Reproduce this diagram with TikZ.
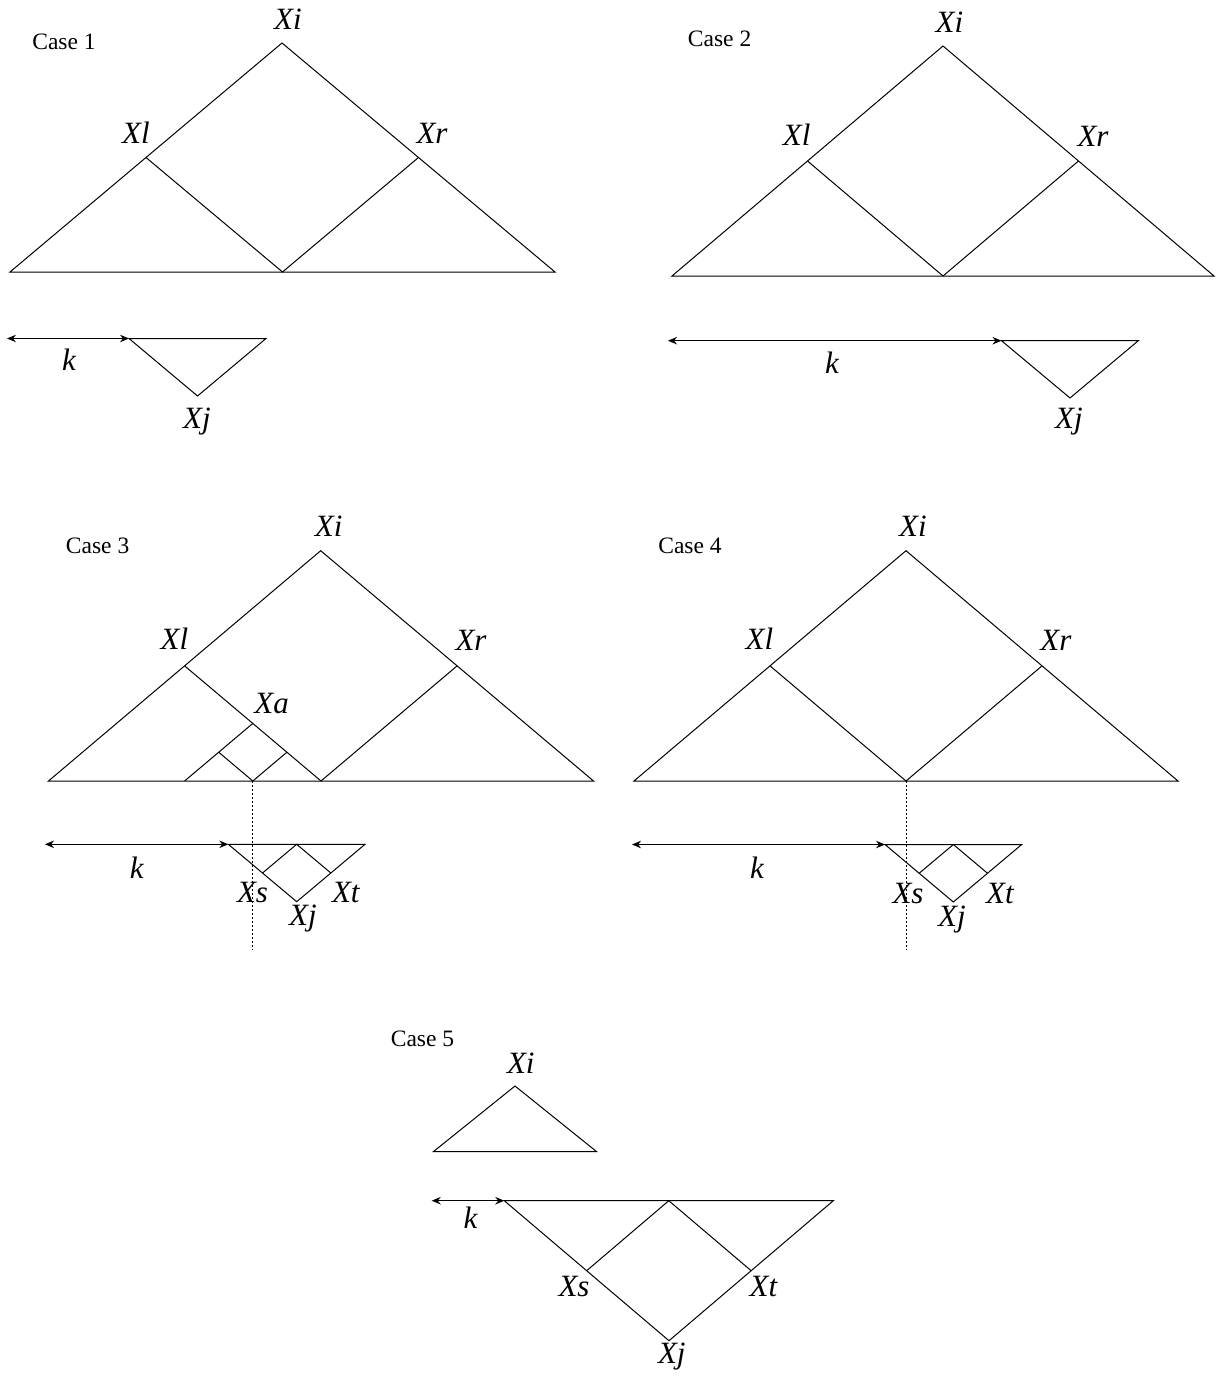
\documentclass[tikz,border=0pt]{standalone}
\usepackage{fontspec}
\setmainfont{Liberation Serif}
\usetikzlibrary{arrows.meta, positioning, calc}
\tikzset{
	tri/.style={line width=1pt},
	span/.style={{Stealth[length=9pt, width=7.5pt]}-{Stealth[length=9pt, width=7.5pt]}, line width=1pt},
	cut/.style={line width=0.9pt, dash pattern=on 2pt off 2pt},
	% text styles
	casetitle/.style={anchor=base, inner sep=0pt, font=\fontsize{23.5}{28}\selectfont},
	var/.style={anchor=base, inner sep=0pt, font=\fontsize{31}{36}\selectfont\itshape},
}
\begin{document}
\begin{tikzpicture}[x=1pt, y=-1pt]
\useasboundingbox (0,0) rectangle (1215,1380);
% Case 1
\coordinate (i1) at (282,43);
\coordinate (a1) at (10,272);
\coordinate (b1) at (555,272);
\coordinate (m1) at ($(a1)!.5!(b1)$);
\coordinate (l1) at ($(i1)!.5!(a1)$);
\coordinate (r1) at ($(i1)!.5!(b1)$);
\draw[tri] (a1) -- (i1) -- (b1) -- cycle;
\draw[tri] (l1) -- (m1) -- (r1);
\coordinate (k1) at (7,338.5);
\coordinate (p1) at (129,338.5);
\coordinate (q1) at (266,338.5);
\coordinate (j1) at (197.5,396);
\draw[span] (k1) -- (p1);
\draw[tri] (p1) -- (q1) -- (j1) -- cycle;
\node[casetitle] (c1) at (64,50) {Case 1};
\node[var] (xi1) at (288,30) {Xi};
\node[var] (xl1) at (136,143.3) {Xl};
\node[var] (xr1) at (432,144) {Xr};
\node[var] (kk1) at (69,370.7) {k};
\node[var] (xj1) at (197,428.3) {Xj};
% Case 2
\coordinate (i2) at (943,46);
\coordinate (a2) at (672,276);
\coordinate (b2) at (1214,276);
\coordinate (m2) at ($(a2)!.5!(b2)$);
\coordinate (l2) at ($(i2)!.5!(a2)$);
\coordinate (r2) at ($(i2)!.5!(b2)$);
\draw[tri] (a2) -- (i2) -- (b2) -- cycle;
\draw[tri] (l2) -- (m2) -- (r2);
\coordinate (k2) at (668,340.7);
\coordinate (p2) at (1001.5,340.7);
\coordinate (q2) at (1138.3,340.7);
\coordinate (j2) at (1070,398);
\draw[span] (k2) -- (p2);
\draw[tri] (p2) -- (q2) -- (j2) -- cycle;
\node[casetitle] (c2) at (719.6,46.7) {Case 2};
\node[var] (xi2) at (949.5,32.3) {Xi};
\node[var] (xl2) at (796.7,145.7) {Xl};
\node[var] (xr2) at (1093,146.7) {Xr};
\node[var] (kk2) at (832,373.3) {k};
\node[var] (xj2) at (1069,428.5) {Xj};
% Case 3
\coordinate (i3) at (320.7,550.7);
\coordinate (a3) at (48.5,781);
\coordinate (b3) at (593.5,781);
\coordinate (m3) at ($(a3)!.5!(b3)$);
\coordinate (l3) at ($(i3)!.5!(a3)$);
\coordinate (r3) at ($(i3)!.5!(b3)$);
\coordinate (g3) at (l3 |- a3);
\coordinate (xa3) at ($(l3)!.5!(m3)$);
\coordinate (u3) at ($(g3)!.5!(xa3)$);
\coordinate (v3) at ($(xa3)!.5!(m3)$);
\coordinate (w3) at ($(g3)!.5!(m3)$);
\draw[tri] (a3) -- (i3) -- (b3) -- cycle;
\draw[tri] (l3) -- (m3) -- (r3);
\draw[tri] (g3) -- (xa3);
\draw[tri] (u3) -- (w3) -- (v3);
\coordinate (k3) at (45,844.3);
\coordinate (p3) at (228.3,844.3);
\coordinate (q3) at (365,844.3);
\coordinate (j3) at (296.7,901.7);
\coordinate (t3) at ($(p3)!.5!(q3)$);
\coordinate (s3) at ($(p3)!.5!(j3)$);
\coordinate (e3) at ($(q3)!.5!(j3)$);
\coordinate (d3) at (252.6,950);
\draw[span] (k3) -- (p3);
\draw[tri] (p3) -- (q3) -- (j3) -- cycle;
\draw[tri] (s3) -- (t3) -- (e3);
\draw[cut] (w3) -- (w3 |- d3);
\node[casetitle] (c3) at (97.6,553.3) {Case 3};
\node[var] (xi3) at (328.7,536) {Xi};
\node[var] (xl3) at (174.4,649.3) {Xl};
\node[var] (xr3) at (471,650.7) {Xr};
\node[var] (xaa3) at (271.6,713.3) {Xa};
\node[var] (kk3) at (136.7,878.3) {k};
\node[var] (xs3) at (252.5,902.7) {Xs};
\node[var] (xt3) at (345.8,902.7) {Xt};
\node[var] (xj3) at (303,925) {Xj};
% Case 4
\coordinate (i4) at (906,550.7);
\coordinate (a4) at (634,781);
\coordinate (b4) at (1178,781);
\coordinate (m4) at ($(a4)!.5!(b4)$);
\coordinate (l4) at ($(i4)!.5!(a4)$);
\coordinate (r4) at ($(i4)!.5!(b4)$);
\draw[tri] (a4) -- (i4) -- (b4) -- cycle;
\draw[tri] (l4) -- (m4) -- (r4);
\coordinate (k4) at (632,844.5);
\coordinate (p4) at (885,844.5);
\coordinate (q4) at (1021.7,844.5);
\coordinate (j4) at (953.3,902);
\coordinate (t4) at ($(p4)!.5!(q4)$);
\coordinate (s4) at ($(p4)!.5!(j4)$);
\coordinate (e4) at ($(q4)!.5!(j4)$);
\coordinate (d4) at (906,950);
\draw[span] (k4) -- (p4);
\draw[tri] (p4) -- (q4) -- (j4) -- cycle;
\draw[tri] (s4) -- (t4) -- (e4);
\draw[cut] (m4) -- (m4 |- d4);
\node[casetitle] (c4) at (690,553.3) {Case 4};
\node[var] (xi4) at (913,536) {Xi};
\node[var] (xl4) at (759.5,649.3) {Xl};
\node[var] (xr4) at (1055.8,650.7) {Xr};
\node[var] (kk4) at (757,878.3) {k};
\node[var] (xs4) at (908,903) {Xs};
\node[var] (xt4) at (1000,903) {Xt};
\node[var] (xj4) at (952,926.5) {Xj};
% Case 5
\coordinate (i5) at (515,1086);
\coordinate (a5) at (433.3,1151.7);
\coordinate (b5) at (596.7,1151.7);
\draw[tri] (a5) -- (i5) -- (b5) -- cycle;
\coordinate (k5) at (431.7,1200.7);
\coordinate (p5) at (504.3,1200.7);
\coordinate (q5) at (833.3,1200.7);
\coordinate (j5) at (669,1340.7);
\coordinate (t5) at ($(p5)!.5!(q5)$);
\coordinate (s5) at ($(p5)!.5!(j5)$);
\coordinate (e5) at ($(q5)!.5!(j5)$);
\draw[span] (k5) -- (p5);
\draw[tri] (p5) -- (q5) -- (j5) -- cycle;
\draw[tri] (s5) -- (t5) -- (e5);
\node[casetitle] (c5) at (422.5,1046.7) {Case 5};
\node[var] (xi5) at (520.8,1073.3) {Xi};
\node[var] (kk5) at (470.5,1228.3) {k};
\node[var] (xs5) at (574,1296.7) {Xs};
\node[var] (xt5) at (763.5,1296.7) {Xt};
\node[var] (xj5) at (671.8,1363.3) {Xj};
\end{tikzpicture}
\end{document}
